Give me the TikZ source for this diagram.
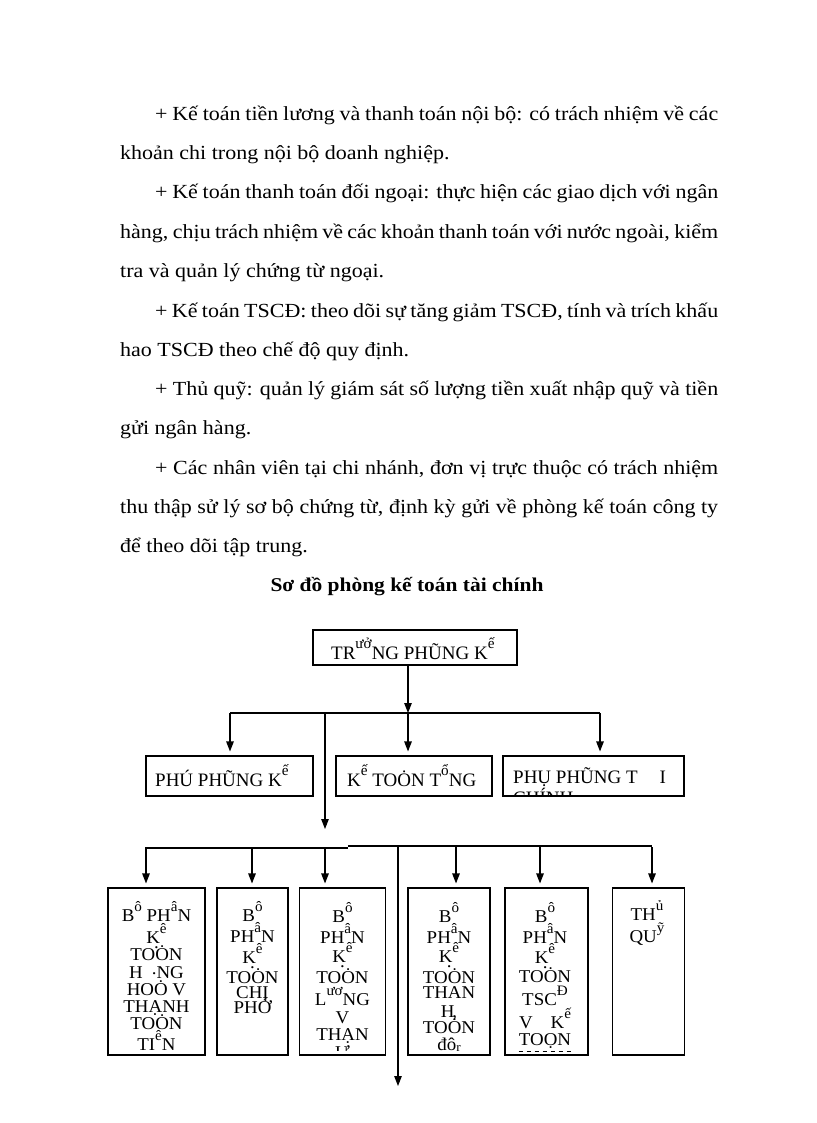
\documentclass[tikz,border=0pt]{standalone}
\usepackage{fontspec}
\usepackage{graphicx}
\setmainfont{Liberation Serif}
\newfontfamily\bodyfont{Liberation Serif}[FakeStretch=1.1]
\newfontfamily\lblfont{Liberation Serif}[FakeStretch=1.05]
\usetikzlibrary{arrows.meta}
\newcommand\stx[1]{\raisebox{0.55em}{\scalebox{0.8}{#1}}}
\newcommand\kdot{K\llap{\raisebox{-5pt}{.}\kern1pt}}
\begin{document}
\begin{tikzpicture}[x=1pt,y=-1pt,
  body/.style={font=\bodyfont\fontsize{20}{24}\selectfont, inner sep=0pt, anchor=base west},
  box/.style={draw, line width=1.1pt, inner sep=0pt},
  arr/.style={line width=1.1pt, -{Triangle[length=10pt,width=7.5pt]}, shorten >=4pt},
  arrf/.style={line width=1.1pt, -{Triangle[length=10pt,width=7.5pt]}},
  ln/.style={line width=1.1pt},
  dtxt/.style={font=\fontsize{19}{23}\selectfont, inner sep=0pt, anchor=base west},
  lbl/.style={font=\lblfont\fontsize{18}{18}\selectfont, inner sep=0pt, anchor=base}]
\useasboundingbox (0,0) rectangle (816,1123);
\fill[white] (0,0) rectangle (816,1123);

% ---- body text ----
\node[body] (l1) at (155,121) {\makebox[563pt][s]{+ Kế toán tiền lương và thanh toán nội bộ: có trách nhiệm về các}};
\node[body] (l2) at (120,160) {khoản chi trong nội bộ doanh nghiệp.};
\node[body] (l3) at (155,199) {\makebox[563pt][s]{+ Kế toán thanh toán đối ngoại: thực hiện các giao dịch với ngân}};
\node[body] (l4) at (120,238) {\makebox[598pt][s]{hàng, chịu trách nhiệm về các khoản thanh toán với nước ngoài, kiểm}};
\node[body] (l5) at (120,277) {tra và quản lý chứng từ ngoại.};
\node[body] (l6) at (155,317) {\makebox[563pt][s]{+ Kế toán TSCĐ: theo dõi sự tăng giảm TSCĐ, tính và trích khấu}};
\node[body] (l7) at (120,356) {hao TSCĐ theo chế độ quy định.};
\node[body] (l8) at (155,395) {\makebox[563pt][s]{+ Thủ quỹ: quản lý giám sát số lượng tiền xuất nhập quỹ và tiền}};
\node[body] (l9) at (120,434) {gửi ngân hàng.};
\node[body] (l10) at (155,474) {\makebox[563pt][s]{+ Các nhân viên tại chi nhánh, đơn vị trực thuộc có trách nhiệm}};
\node[body] (l11) at (120,513) {\makebox[598pt][s]{thu thập sử lý sơ bộ chứng từ, định kỳ gửi về phòng kế toán công ty}};
\node[body] (l12) at (120,552) {để theo dõi tập trung.};
\node[body, anchor=base, font=\bodyfont\fontsize{19.5}{23}\selectfont\bfseries] (ttl) at (407,591) {Sơ đồ phòng kế toán tài chính};

% ---- boxes ----
\node[box, minimum width=204pt, minimum height=35pt] (tp) at (415,647.5) {};
\node[dtxt] (tpt) at (331,659) {TR\stx{ưở}NG PHŨNG K\stx{ế}};

\node[box, minimum width=167pt, minimum height=40pt] (m1) at (229.5,776) {};
\node[box, minimum width=156pt, minimum height=40pt] (m2) at (414,776) {};
\node[box, minimum width=181pt, minimum height=40pt] (m3) at (593.5,776) {};
\node[dtxt] (m1t) at (155,786) {PHÚ PHŨNG K\stx{ế}};
\node[dtxt] (m2t) at (347,786) {K\stx{ế} TOȮN T\stx{ổ}NG};
\begin{scope}
\clip ([yshift=1pt]m3.south west) rectangle (m3.north east);
\node[dtxt] (m3t) at (513,783) {PHỤ PHŨNG T\hspace{22pt}I};
\node[dtxt] (m3u) at (513,804) {CHÍNH};
\end{scope}

\foreach \nm/\cx/\bw in {b1/156.5/97, b2/252.5/71, b3/342.5/86, b4/449/82, b5/546.5/83, b6/648.5/72}
  \node[box, minimum width=\bw pt, minimum height=167pt] (\nm) at (\cx,971.5) {};

\foreach \yy/\lbltext [count=\i] in {921/{B\stx{ô} PH\stx{â}N}, 943/{\kdot\stx{ê}}, 960/{TOȮN}, 978/{H\hspace{9pt}\raisebox{4pt}{.}NG}, 995/{HOȮ V}, 1012/{THẠNH}, 1029/{TOȮN}, 1050/{TI\stx{ê}N}}
  \node[lbl] (b1t\i) at (156.5,\yy) {\lbltext};
\foreach \yy/\lbltext [count=\i] in {921/{B\stx{ô}}, 942/{PH\stx{â}N}, 963/{\kdot\stx{ê}}, 983/{TOȮN}, 998/{CHỊ}, 1013/{PHỚ}}
  \node[lbl] (b2t\i) at (252.5,\yy) {\lbltext};
\begin{scope}
\clip ([yshift=5pt]b3.south west) rectangle (b3.north east);
\foreach \yy/\lbltext [count=\i] in {922/{B\stx{ô}}, 943/{PH\stx{â}N}, 962/{\kdot\stx{ê}}, 983/{TOȮN}, 1005/{L\stx{ươ}NG}, 1023/{V}, 1040/{THẠN}, 1058/{Ư}}
  \node[lbl] (b3t\i) at (342.5,\yy) {\lbltext};
\end{scope}
\foreach \yy/\lbltext [count=\i] in {922/{B\stx{ô}}, 943/{PH\stx{â}N}, 962/{\kdot\stx{ê}}, 983/{TOȮN}, 998/{THAN}, 1017/{H\kern-2pt,}, 1033/{TOȮN}, 1050/{đô\raisebox{-1pt}{\scalebox{0.7}{r}}}}
  \node[lbl] (b4t\i) at (449,\yy) {\lbltext};
\foreach \yy/\lbltext [count=\i] in {922/{B\stx{ô}}, 943/{PH\stx{â}N}, 963/{\kdot\stx{ê}}, 982/{TOȮN}, 1005/{TSC\stx{Đ}}, 1028/{V\hspace{18pt}K\stx{ế}}, 1045/{TOỌN}}
  \node[lbl] (b5t\i) at (545,\yy) {\lbltext};
\foreach \yy/\lbltext [count=\i] in {920/{TH\stx{ủ}}, 942/{QU\stx{ỹ}}}
  \node[lbl] (b6t\i) at (647,\yy) {\lbltext};
\draw[line width=0.9pt, dash pattern=on 4pt off 4pt] (b5t7.south west) ++(0,-3pt) -- ([yshift=-3pt]b5t7.south east);

% ---- connectors ----
\coordinate (h1) at (408,713);
\coordinate (hL) at (230,713);
\coordinate (hR) at (600,713);
\coordinate (v1) at (325,713);
\coordinate (v1e) at (325,829);
\draw[arrf] (tp.south -| h1) -- (h1);
\draw[ln] (hL) -- (hR);
\draw[arr] (hL) -- (hL |- m1.north);
\draw[arr] (h1) -- (h1 |- m2.north);
\draw[arr] (hR) -- (hR |- m3.north);
\draw[arrf] (v1) -- (v1e);

\coordinate (gL) at (146,848);
\coordinate (gM) at (348,848);
\coordinate (gM2) at (348,846);
\coordinate (gR) at (652,846);
\draw[ln] (gL) -- (gM);
\draw[ln] (gM2) -- (gR);
\foreach \ax/\nm in {146/b1, 252/b2, 325/b3, 456/b4, 540/b5, 652/b6}
  \draw[arr] (\ax,847) -- (\ax,847 |- \nm.north);
\coordinate (d1) at (398,846);
\coordinate (d2) at (398,1086);
\draw[arrf] (d1) -- (d2);
\end{tikzpicture}
\end{document}
